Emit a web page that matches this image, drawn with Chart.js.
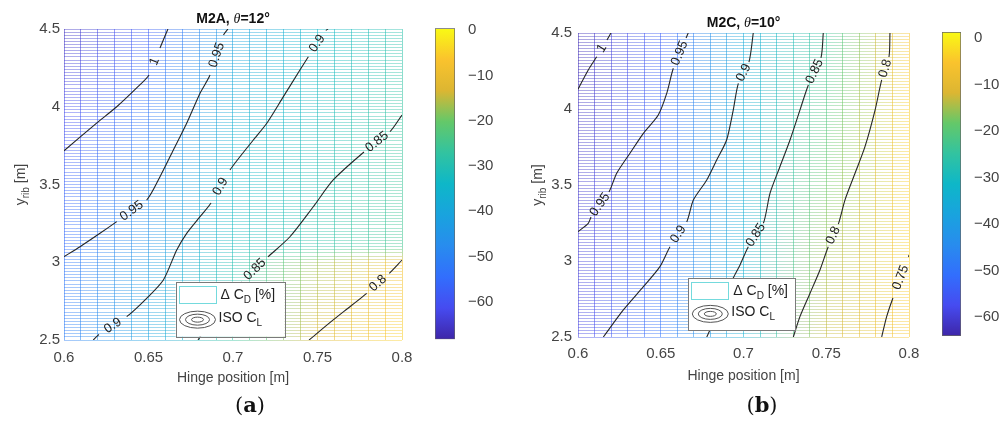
<!DOCTYPE html>
<html>
<head>
<meta charset="utf-8">
<script src="https://cdn.jsdelivr.net/npm/chart.js@4.4.1/dist/chart.umd.min.js"></script>
<style>
  html, body { margin: 0; padding: 0; background: #fff; }
  #wrap { position: relative; width: 1001px; height: 421px; overflow: hidden; }
  .cell { position: absolute; top: 0; height: 421px; }
</style>
</head>
<body>
<div id="wrap">
  <div class="cell" style="left:0;width:422px"><canvas id="plotA"></canvas></div>
  <div class="cell" style="left:430px;width:70px"><canvas id="barA"></canvas></div>
  <div class="cell" style="left:500px;width:420px"><canvas id="plotB"></canvas></div>
  <div class="cell" style="left:935px;width:66px"><canvas id="barB"></canvas></div>
</div>
<script>
// ---- data -------------------------------------------------------------
// ΔCD [%] mesh: columns = hinge position [m], rows = y_rib [m]
const hingeCols = [0.6, 0.65, 0.7, 0.75, 0.8];

const ribRowsA = [2.5, 3.0, 3.1, 3.5, 4.0, 4.5];
const dCdA = [
  [-51, -41, -27, -13, -5],
  [-53, -43, -30, -17, -8],
  [-55, -45, -32, -28, -25],
  [-57, -48, -34, -30, -26],
  [-62, -53, -38, -32, -27],
  [-66, -58, -42, -34, -29],
];
const climA = [-68.3, 0.4];

const ribRowsB = [2.5, 3.0, 3.5, 4.0, 4.5];
const dCdB = [
  [-59, -50, -34, -13, -5],
  [-60, -51, -34, -15, -4],
  [-61, -52, -35, -18, -4],
  [-62, -53, -35, -21, -4],
  [-63, -54, -36, -24, -5],
];
const climB = [-64.1, 1.3];

// ISO CL contours as [hinge, y_rib]; gaps = segment index left open for the level label
const isoA = [
  { level: '1', gaps: [4], pts: [[0.6, 3.717], [0.6193, 3.895], [0.6312, 4.0], [0.643, 4.121], [0.6503, 4.204], [0.6568, 4.378], [0.6615, 4.5]] },
  { level: '0.95', gaps: [3, 9], pts: [[0.6, 3.036], [0.6095, 3.10], [0.6213, 3.186], [0.6312, 3.261], [0.6489, 3.40], [0.6568, 3.55], [0.6647, 3.722], [0.6726, 3.894], [0.6805, 4.087], [0.6864, 4.204], [0.6944, 4.461], [0.697, 4.5]] },
  { level: '0.9', gaps: [1, 8, 14], pts: [[0.6173, 2.5], [0.6207, 2.535], [0.6371, 2.65], [0.6489, 2.768], [0.6588, 2.886], [0.6667, 3.079], [0.6726, 3.186], [0.6805, 3.293], [0.687, 3.381], [0.6982, 3.593], [0.712, 3.786], [0.72, 3.894], [0.7298, 4.065], [0.7396, 4.236], [0.7446, 4.322], [0.755, 4.49], [0.7562, 4.5]] },
  { level: '0.85', gaps: [3, 8], pts: [[0.6793, 2.5], [0.6893, 2.661], [0.6994, 2.81], [0.7053, 2.873], [0.7207, 3.034], [0.7337, 3.164], [0.7475, 3.357], [0.7593, 3.529], [0.7775, 3.709], [0.7929, 3.84], [0.8, 3.947]] },
  { level: '0.8', gaps: [3], pts: [[0.745, 2.5], [0.7593, 2.629], [0.7692, 2.714], [0.7791, 2.80], [0.7925, 2.929], [0.8, 3.014]] },
];
const isoB = [
  { level: '1', gaps: [2], pts: [[0.6, 4.13], [0.6062, 4.257], [0.6113, 4.344], [0.6175, 4.454], [0.6199, 4.5]] },
  { level: '0.95', gaps: [2, 9], pts: [[0.6, 3.193], [0.6062, 3.248], [0.6079, 3.289], [0.6187, 3.454], [0.6234, 3.577], [0.6314, 3.709], [0.6395, 3.84], [0.6485, 3.961], [0.6536, 4.103], [0.6576, 4.268], [0.6653, 4.467], [0.6666, 4.5]] },
  { level: '0.9', gaps: [4, 11], pts: [[0.6153, 2.5], [0.6274, 2.678], [0.6395, 2.831], [0.6495, 2.963], [0.6556, 3.094], [0.6657, 3.257], [0.6697, 3.401], [0.6778, 3.533], [0.6838, 3.664], [0.6898, 3.796], [0.6938, 3.993], [0.6969, 4.169], [0.7033, 4.309], [0.7059, 4.5]] },
  { level: '0.85', gaps: [4, 10], pts: [[0.6778, 2.5], [0.6858, 2.691], [0.6938, 2.888], [0.6979, 2.974], [0.7029, 3.094], [0.712, 3.248], [0.716, 3.445], [0.722, 3.62], [0.7281, 3.796], [0.7341, 3.993], [0.7392, 4.158], [0.7468, 4.336], [0.7482, 4.5]] },
  { level: '0.8', gaps: [4, 10], pts: [[0.7301, 2.5], [0.7341, 2.634], [0.7402, 2.788], [0.7462, 2.941], [0.7512, 3.094], [0.7573, 3.243], [0.7613, 3.401], [0.7674, 3.577], [0.7734, 3.752], [0.7795, 3.993], [0.7835, 4.191], [0.7879, 4.342], [0.7885, 4.5]] },
  { level: '0.75', gaps: [2], pts: [[0.7835, 2.5], [0.7865, 2.634], [0.7903, 2.757], [0.7997, 3.026], [0.8, 3.04]] },
];

// ---- styling ----------------------------------------------------------
const SANS = '"Liberation Sans", Arial, Helvetica, sans-serif';
const SERIF = '"DejaVu Serif", "Liberation Serif", serif';
const TICK = '#444';
const H_ALPHA = 0.42;   // mesh rows
const V_ALPHA = 0.55;   // mesh columns

// parula, 11 evenly spaced keys
const PARULA = [
  [62, 38, 168], [70, 75, 240], [50, 110, 253], [40, 140, 238], [25, 163, 222],
  [14, 183, 200], [50, 195, 160], [100, 200, 105], [220, 182, 50], [250, 195, 45], [249, 250, 20],
];

function parula(t, alpha) {
  t = Math.min(1, Math.max(0, t));
  const n = PARULA.length - 1;
  const i = Math.min(n - 1, Math.floor(t * n));
  const f = t * n - i;
  const c = PARULA[i].map((v, k) => Math.round(v + (PARULA[i + 1][k] - v) * f));
  return `rgba(${c[0]},${c[1]},${c[2]},${alpha})`;
}

function lerpTable(keys, vals, k) {
  let i = 0;
  while (i < keys.length - 2 && k > keys[i + 1]) i++;
  const f = Math.min(1, Math.max(0, (k - keys[i]) / (keys[i + 1] - keys[i])));
  return vals[i] + (vals[i + 1] - vals[i]) * f;
}

const norm = (v, clim) => (v - clim[0]) / (clim[1] - clim[0]);
const clamp01 = v => Math.min(1, Math.max(0, v));

// horizontal mesh line: colour varies along hinge position
function rowColor(c, mesh) {
  const chart = c.chart, area = chart.chartArea;
  if (!area || !c.tick) return 'rgba(0,0,0,0)';
  const xs = chart.scales.x;
  const g = chart.ctx.createLinearGradient(area.left, 0, area.right, 0);
  mesh.cols.forEach((x, j) => {
    const v = lerpTable(mesh.rows, mesh.grid.map(r => r[j]), c.tick.value);
    const p = (xs.getPixelForValue(x) - area.left) / (area.right - area.left);
    g.addColorStop(clamp01(p), parula(norm(v, mesh.clim), H_ALPHA));
  });
  return g;
}

// vertical mesh line: colour varies along y_rib
function colColor(c, mesh) {
  const chart = c.chart, area = chart.chartArea;
  if (!area || !c.tick) return 'rgba(0,0,0,0)';
  const ys = chart.scales.y;
  const g = chart.ctx.createLinearGradient(0, area.top, 0, area.bottom);
  mesh.rows.forEach((y, i) => {
    const v = lerpTable(mesh.cols, mesh.grid[i], c.tick.value);
    const p = (ys.getPixelForValue(y) - area.top) / (area.bottom - area.top);
    g.addColorStop(clamp01(p), parula(norm(v, mesh.clim), V_ALPHA));
  });
  return g;
}

const onStep = (v, s) => Math.abs(v / s - Math.round(v / s)) < 1e-6;
const fmt = v => String(Math.round(v * 100) / 100);
const fmtMinus = v => (v < 0 ? '\u2212' + Math.abs(v) : String(v));

// draws a run of [text, font, dy] pieces centred on x
function drawRuns(ctx, runs, x, y) {
  let w = 0;
  runs.forEach(r => { ctx.font = r[1]; w += ctx.measureText(r[0]).width; });
  let cx = x - w / 2;
  ctx.textAlign = 'left';
  ctx.textBaseline = 'alphabetic';
  runs.forEach(r => {
    ctx.font = r[1];
    ctx.fillText(r[0], cx, y + (r[2] || 0));
    cx += ctx.measureText(r[0]).width;
  });
}

// inline contour labels sitting in the open segments
const isoLabels = {
  id: 'isoLabels',
  afterDatasetsDraw(chart) {
    const ctx = chart.ctx;
    ctx.save();
    ctx.font = '13px ' + SANS;
    ctx.fillStyle = '#222';
    ctx.textAlign = 'center';
    ctx.textBaseline = 'middle';
    chart.data.datasets.forEach((ds, di) => {
      const els = chart.getDatasetMeta(di).data;
      ds.gaps.forEach(g => {
        const a = els[g], b = els[g + 1];
        let ang = Math.atan2(b.y - a.y, b.x - a.x);
        if (ang > Math.PI / 2) ang -= Math.PI;
        if (ang < -Math.PI / 2) ang += Math.PI;
        ctx.save();
        ctx.translate((a.x + b.x) / 2, (a.y + b.y) / 2);
        ctx.rotate(ang);
        ctx.fillText(ds.label, 0, 0);
        ctx.restore();
      });
    });
    ctx.restore();
  }
};

// title, axis titles, legend box and sub-caption
function panelText(look) {
  return {
    id: 'panelText',
    afterDraw(chart) {
      const { ctx, chartArea: a } = chart;
      const cx = (a.left + a.right) / 2;
      const f14 = '14px ' + SANS, f10 = '10px ' + SANS;
      ctx.save();

      ctx.fillStyle = '#111';
      drawRuns(ctx, [[look.titleHead, 'bold 14px ' + SANS], ['\u03b8', 'italic 14px "Liberation Serif", serif'], [look.titleTail, 'bold 14px ' + SANS]], cx, a.top - 6.5);

      ctx.fillStyle = '#444';
      drawRuns(ctx, [['Hinge position [m]', f14]], cx, a.bottom + look.xTitleGap);

      ctx.save();
      ctx.translate(a.left - look.yTitleGap, (a.top + a.bottom) / 2);
      ctx.rotate(-Math.PI / 2);
      drawRuns(ctx, [['y', f14], ['rib', f10, 4], [' [m]', f14]], 0, 0);
      ctx.restore();

      // legend
      const [lx, lb, lw, lh] = look.legend;
      const bx = a.left + lx, by = a.bottom - lb - lh;
      ctx.fillStyle = '#fff';
      ctx.fillRect(bx, by, lw, lh);
      ctx.strokeStyle = '#7a7a7a';
      ctx.lineWidth = 1;
      ctx.strokeRect(Math.round(bx) + 0.5, Math.round(by) + 0.5, Math.round(lw), Math.round(lh));
      ctx.strokeStyle = 'rgba(70,205,210,0.75)';
      ctx.strokeRect(Math.round(bx) + 3.5, Math.round(by) + 4.5, 37, 17);
      ctx.strokeStyle = '#555';
      [[18, 8.5], [12, 5.5], [6, 2.5]].forEach(([rx, ry]) => {
        ctx.beginPath();
        ctx.ellipse(bx + 22, by + lh * 0.69, rx, ry, 0, 0, Math.PI * 2);
        ctx.stroke();
      });
      ctx.fillStyle = '#222';
      ctx.textAlign = 'left';
      const runsAt = (runs, x, y) => {
        let px = x;
        runs.forEach(r => { ctx.font = r[1]; ctx.fillText(r[0], px, y + (r[2] || 0)); px += ctx.measureText(r[0]).width; });
      };
      ctx.textBaseline = 'alphabetic';
      runsAt([['\u0394 C', f14], ['D', f10, 4], [' [%]', f14]], bx + 45, by + 17);
      runsAt([['ISO C', f14], ['L', f10, 4]], bx + 43, by + lh * 0.73);

      // sub-caption
      ctx.fillStyle = '#111';
      drawRuns(ctx, [['(', '21px ' + SERIF], [look.tag, 'bold 21px ' + SERIF], [')', '21px ' + SERIF]], look.tagX, 411.5);
      ctx.restore();
    }
  };
}

function buildPlot(id, mesh, iso, look) {
  const datasets = iso.map(c => ({
    label: c.level,
    gaps: c.gaps,
    data: c.pts.map(([x, y]) => ({ x, y })),
    borderColor: '#262626',
    borderWidth: 1.1,
    pointRadius: 0,
    tension: 0.25,
    fill: false,
    segment: { borderColor: s => (c.gaps.includes(s.p0DataIndex) ? 'rgba(0,0,0,0)' : undefined) },
  }));
  return new Chart(document.getElementById(id), {
    type: 'line',
    data: { datasets },
    options: {
      animation: false,
      responsive: true,
      maintainAspectRatio: false,
      layout: { padding: look.padding },
      plugins: { legend: { display: false }, tooltip: { enabled: false } },
      scales: {
        x: {
          type: 'linear', min: 0.6, max: 0.8,
          // fixed axis box; end labels may overhang the plot edges
          afterFit: s => { s.height = look.xAxisH; s.paddingLeft = 0; s.paddingRight = 0; },
          ticks: {
            stepSize: 0.01, autoSkip: false, maxRotation: 0, minRotation: 0,
            padding: look.xTickPad, color: TICK, font: { family: SANS, size: 15 },
            callback: v => (onStep(v, 0.05) ? fmt(v) : ''),
          },
          grid: { z: -1, drawTicks: false, lineWidth: 1, color: c => colColor(c, mesh) },
          border: { display: false },
        },
        y: {
          type: 'linear', min: 2.5, max: 4.5,
          afterFit: s => { s.width = look.yAxisW; s.paddingTop = 0; s.paddingBottom = 0; },
          ticks: {
            stepSize: 0.02, autoSkip: false, padding: look.yTickPad, color: TICK, font: { family: SANS, size: 15 },
            callback: v => (onStep(v, 0.5) ? fmt(v) : ''),
          },
          grid: { z: -2, drawTicks: false, lineWidth: 1, color: c => rowColor(c, mesh) },
          border: { display: false },
        },
      },
    },
    plugins: [isoLabels, panelText(look)],
  });
}

function buildColorbar(id, clim, padding, axisW) {
  return new Chart(document.getElementById(id), {
    type: 'bar',
    data: {
      labels: [''],
      datasets: [{
        data: [[clim[0], clim[1]]],
        backgroundColor: c => {
          const chart = c.chart, area = chart.chartArea;
          if (!area) return '#888';
          const ys = chart.scales.y;
          const g = chart.ctx.createLinearGradient(0, ys.getPixelForValue(clim[0]), 0, ys.getPixelForValue(clim[1]));
          PARULA.forEach((_, i) => g.addColorStop(i / (PARULA.length - 1), parula(i / (PARULA.length - 1), 1)));
          return g;
        },
        borderColor: '#666',
        borderWidth: 1,
        borderSkipped: false,
        barPercentage: 1,
        categoryPercentage: 1,
      }],
    },
    options: {
      animation: false,
      responsive: true,
      maintainAspectRatio: false,
      layout: { padding },
      plugins: { legend: { display: false }, tooltip: { enabled: false } },
      scales: {
        x: { display: false },
        y: {
          position: 'right', min: clim[0], max: clim[1],
          afterFit: s => { s.width = axisW; s.paddingTop = 0; s.paddingBottom = 0; },
          ticks: { stepSize: 10, includeBounds: false, padding: 5, color: TICK, font: { family: SANS, size: 15 }, callback: v => fmtMinus(v) },
          grid: { display: false },
          border: { display: false },
        },
      },
    },
  });
}

buildPlot('plotA', { cols: hingeCols, rows: ribRowsA, grid: dCdA, clim: climA }, isoA, {
  padding: { left: 0, top: 29, right: 20, bottom: 0 }, yAxisW: 64, xAxisH: 81,
  xTickPad: 9, yTickPad: 4, xTitleGap: 42, yTitleGap: 39,
  titleHead: 'M2A, ', titleTail: '=12\u00b0', tag: 'a', tagX: 250,
  legend: [111.5, 3.3, 109, 55],
});
buildColorbar('barA', climA, { left: 5, top: 28.3, right: 0, bottom: 81.7 }, 45);

buildPlot('plotB', { cols: hingeCols, rows: ribRowsB, grid: dCdB, clim: climB }, isoB, {
  padding: { left: 0, top: 33, right: 11, bottom: 0 }, yAxisW: 78, xAxisH: 84,
  xTickPad: 7.5, yTickPad: 6, xTitleGap: 43, yTitleGap: 36.5,
  titleHead: 'M2C, ', titleTail: '=10\u00b0', tag: 'b', tagX: 262,
  legend: [110.3, 7, 107, 52],
});
buildColorbar('barB', climB, { left: 7, top: 32, right: 0, bottom: 85 }, 40);
</script>
</body>
</html>
